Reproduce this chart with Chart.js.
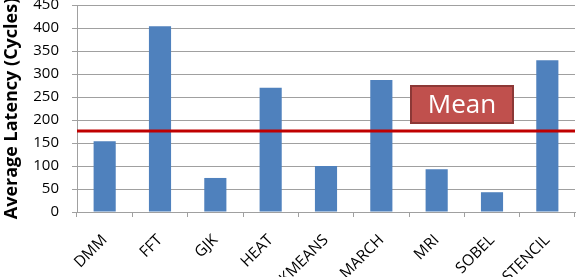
<!DOCTYPE html>
<html>
<head>
<meta charset="utf-8">
<script src="https://cdn.jsdelivr.net/npm/chart.js@4.4.0/dist/chart.umd.min.js"></script>
<style>
  html, body { margin: 0; padding: 0; background: #fff; }
  #wrap { width: 577px; height: 277px; position: relative; }
</style>
</head>
<body>
<div id="wrap"><canvas id="bar_graph"></canvas></div>
<script>
// dati
var benchmarks = ["DMM", "FFT", "GJK", "HEAT", "KMEANS", "MARCH", "MRI", "SOBEL", "STENCIL"];
var latency = [154, 404, 74, 270, 100, 287, 93, 43, 330];
var meanLatency = 176;
var meanLabel = "Mean";
var yTicks = [0, 50, 100, 150, 200, 250, 300, 350, 400, 450];

var fontFamily = "'Open Sans', 'Liberation Sans', sans-serif";

// plugin per la linea della media e il riquadro "Mean"
var meanPlugin = {
  id: "meanLine",
  afterDatasetsDraw: function(chart) {
    var ctx = chart.ctx;
    var area = chart.chartArea;
    var y = chart.scales.y.getPixelForValue(meanLatency);

    ctx.save();
    ctx.strokeStyle = "#c00000";
    ctx.lineWidth = 3;
    ctx.beginPath();
    ctx.moveTo(area.left, y);
    ctx.lineTo(area.right, y);
    ctx.stroke();

    // riquadro
    var bx = area.left + 334, by = 86, bw = 102, bh = 37;
    ctx.fillStyle = "#c0504d";
    ctx.fillRect(bx, by, bw, bh);
    ctx.strokeStyle = "#8c3836";
    ctx.lineWidth = 2;
    ctx.strokeRect(bx, by, bw, bh);
    ctx.fillStyle = "#ffffff";
    ctx.font = "26px " + fontFamily;
    ctx.textAlign = "center";
    ctx.textBaseline = "middle";
    ctx.fillText(meanLabel, bx + bw / 2, by + bh / 2 + 1);
    ctx.restore();
  }
};

var ctxBar = document.getElementById("bar_graph").getContext("2d");

var barGraph = new Chart(ctxBar, {
  type: "bar",
  data: {
    labels: benchmarks,
    datasets: [{
      data: latency,
      backgroundColor: "#4f81bd",
      categoryPercentage: 1,
      barPercentage: 0.4
    }]
  },
  options: {
    responsive: true,
    maintainAspectRatio: false,
    animation: false,
    layout: { padding: { top: 5, right: 2, left: 0, bottom: 0 } },
    plugins: {
      legend: { display: false },
      tooltip: { enabled: false }
    },
    scales: {
      x: {
        grid: {
          offset: true,
          drawOnChartArea: false,
          drawTicks: true,
          tickLength: 5,
          color: "#a0a0a0"
        },
        border: { color: "#a0a0a0", width: 1 },
        ticks: {
          minRotation: 45,
          maxRotation: 45,
          color: "#000",
          font: { family: fontFamily, size: 15.5 },
          padding: 14
        },
        afterFit: function(scale) {
          scale.height = 65;
          scale.paddingLeft = 0;
          scale.paddingRight = 0;
        }
      },
      y: {
        min: 0,
        max: 450,
        afterBuildTicks: function(scale) {
          scale.ticks = yTicks.map(function(v) { return { value: v }; });
        },
        grid: {
          color: "#a0a0a0",
          tickLength: 5
        },
        border: { color: "#a0a0a0", width: 1 },
        ticks: {
          color: "#000",
          font: { family: fontFamily, size: 15 },
          padding: 13
        },
        title: {
          display: true,
          text: "Average Latency (Cycles)",
          color: "#000",
          font: { family: fontFamily, size: 18, weight: "bold" },
          padding: { top: 1, bottom: 0 }
        },
        afterFit: function(scale) {
          scale.width = 77;
          scale.paddingTop = 0;
          scale.paddingBottom = 0;
        }
      }
    }
  },
  plugins: [meanPlugin]
});
</script>
</body>
</html>
